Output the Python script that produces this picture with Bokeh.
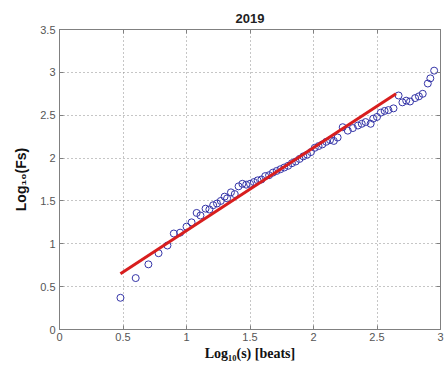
from bokeh.plotting import figure
from bokeh.models import Range1d, FixedTicker, LinearAxis, CustomJSTickFormatter
from bokeh.embed import file_html
from bokeh.resources import INLINE

# data
log_s = [0.48, 0.60, 0.70, 0.78, 0.85, 0.90, 0.95, 1.00, 1.04, 1.08, 1.11, 1.15, 1.18,
         1.21, 1.24, 1.27, 1.30, 1.32, 1.35, 1.38, 1.41, 1.44, 1.47, 1.50, 1.53, 1.56,
         1.59, 1.62, 1.65, 1.68, 1.71, 1.74, 1.77, 1.80, 1.83, 1.86, 1.89, 1.92, 1.95,
         1.98, 2.01, 2.04, 2.07, 2.10, 2.13, 2.16, 2.19, 2.23, 2.27, 2.31, 2.35, 2.38,
         2.41, 2.45, 2.47, 2.50, 2.53, 2.56, 2.59, 2.63, 2.67, 2.70, 2.73, 2.76, 2.80,
         2.83, 2.86, 2.90, 2.92, 2.95]
log_fs = [0.37, 0.60, 0.76, 0.89, 0.98, 1.12, 1.13, 1.20, 1.25, 1.36, 1.33, 1.41, 1.40,
          1.45, 1.47, 1.50, 1.55, 1.53, 1.60, 1.58, 1.67, 1.70, 1.69, 1.70, 1.72, 1.74,
          1.75, 1.79, 1.80, 1.83, 1.85, 1.87, 1.89, 1.91, 1.94, 1.96, 1.99, 2.02, 2.04,
          2.07, 2.12, 2.14, 2.16, 2.19, 2.21, 2.20, 2.24, 2.36, 2.32, 2.35, 2.38, 2.40,
          2.42, 2.40, 2.46, 2.48, 2.53, 2.55, 2.56, 2.58, 2.73, 2.65, 2.67, 2.66, 2.70,
          2.72, 2.75, 2.87, 2.93, 3.02]
fit_x = [0.48, 2.65]
fit_y = [0.65, 2.75]
x_ticks = [0, 0.5, 1, 1.5, 2, 2.5, 3]
y_ticks = [0, 0.5, 1, 1.5, 2, 2.5, 3, 3.5]

p = figure(width=447, height=366, output_backend="svg", toolbar_location=None,
           x_range=Range1d(0, 3), y_range=Range1d(0, 3.5),
           min_border_left=59, min_border_right=7, min_border_top=29, min_border_bottom=37)
p.background_fill_color = "white"
p.border_fill_color = "white"
p.outline_line_color = "#808080"
p.outline_line_width = 1

p.title.text = "2019"
p.title.align = "center"
p.title.vertical_align = "top"
p.title.text_font = "Liberation Sans"
p.title.text_font_size = "13px"
p.title.text_font_style = "bold"
p.title.text_color = "#222222"
p.title.standoff = 10
p.title.offset = 0

fmt = CustomJSTickFormatter(code="return String(tick);")
for ax, ticks in ((p.xaxis[0], x_ticks), (p.yaxis[0], y_ticks)):
    ax.ticker = FixedTicker(ticks=ticks)
    ax.formatter = fmt
    ax.major_tick_in = 4
    ax.major_tick_out = 0
    ax.minor_tick_in = 0
    ax.minor_tick_out = 0
    ax.axis_line_color = "#808080"
    ax.major_tick_line_color = "#808080"
    ax.major_label_text_font = "Liberation Sans"
    ax.major_label_text_font_size = "11px"
    ax.major_label_text_color = "#555555"

p.xaxis.major_label_standoff = 3
p.yaxis.major_label_standoff = 4

p.xaxis.axis_label = "Log\u2081\u2080(s) [beats]"
p.xaxis.axis_label_text_font = "Liberation Serif"
p.xaxis.axis_label_text_font_style = "bold"
p.xaxis.axis_label_text_font_size = "14px"
p.xaxis.axis_label_text_color = "#111111"
p.xaxis.axis_label_standoff = 2

p.yaxis.axis_label = "Log\u2081\u2080(Fs)"
p.yaxis.axis_label_text_font = "Liberation Sans"
p.yaxis.axis_label_text_font_style = "bold"
p.yaxis.axis_label_text_font_size = "14px"
p.yaxis.axis_label_text_color = "#111111"
p.yaxis.axis_label_standoff = 8

blank = CustomJSTickFormatter(code="return '';")
for side, ticks in (("above", x_ticks), ("right", y_ticks)):
    ax = LinearAxis(ticker=FixedTicker(ticks=ticks), formatter=blank)
    ax.major_tick_in = 4
    ax.major_tick_out = 0
    ax.minor_tick_in = 0
    ax.minor_tick_out = 0
    ax.major_label_standoff = 0
    ax.axis_line_color = "#808080"
    ax.major_tick_line_color = "#808080"
    p.add_layout(ax, side)

for g, ticks in ((p.xgrid[0], x_ticks), (p.ygrid[0], y_ticks)):
    g.ticker = FixedTicker(ticks=ticks)
    g.grid_line_color = "#8c8c8c"
    g.grid_line_dash = "1 3"
    g.grid_line_width = 1

p.scatter(log_s, log_fs, marker="circle", size=7, fill_color=None,
          line_color="#3535a8", line_width=1)
p.line(fit_x, fit_y, line_color="#d81e1e", line_width=3)

open("out.html", "w").write(file_html(p, INLINE))
